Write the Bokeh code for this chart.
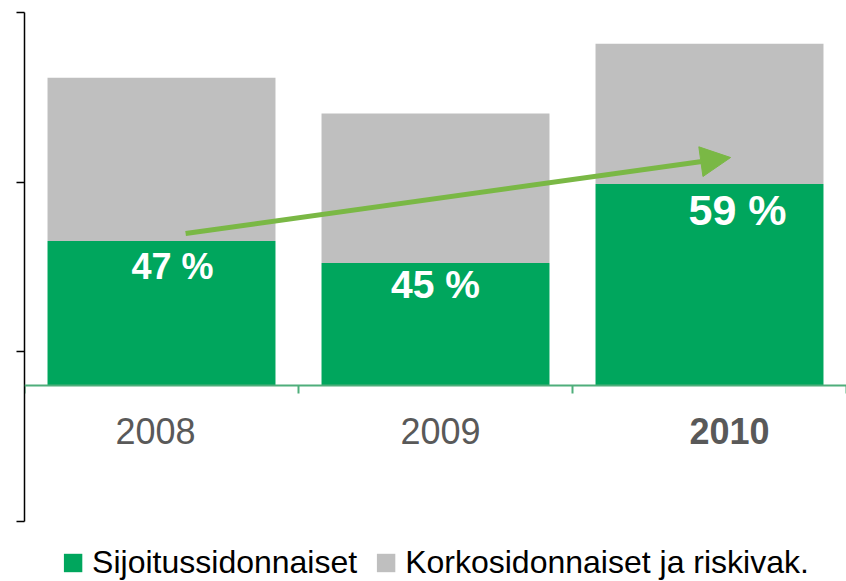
from bokeh.plotting import figure
from bokeh.models import (Range1d, LinearAxis, FixedTicker, Span, Legend, LegendItem,
                          Arrow, NormalHead, ColumnDataSource)
from bokeh.core.properties import value
from bokeh.embed import file_html
from bokeh.resources import INLINE

# ---------------- data ----------------
years = ["2008", "2009", "2010"]
totals = [1.81, 1.60, 2.01]            # total bar height (relative units)
unit_linked_pct = [47, 45, 59]         # share of Sijoitussidonnaiset, %
series_names = ["Sijoitussidonnaiset", "Korkosidonnaiset ja riskivak."]
year_bold = [False, False, True]
axis_ticks = [0, 1, 2, 3]

# ---------------- styles / layout ----------------
GREEN = "#00A65D"
GRAY = "#BFBFBF"
ARROW_GREEN = "#7AB845"
AXIS_GREEN = "#4FAE7B"
TEXT_GRAY = "#595959"
FONT = "Liberation Sans"
W, H = 846, 581
LEFT, TOP = 24, 12
BASE = 385             # pixel row of the value baseline
PX = 170.0             # pixels per value unit
CAT_PX = 274.0         # pixels per category
AX_PX = 169.67
year_dx = [-6, 5, 20]  # label nudges (px)
pct_dx = [11, 0, 28]
pct_dy = [26, 21, 26]
pct_size = ["36px", "39px", "43px"]

xs = [i + 0.5 for i in range(len(years))]
green = [t * s / 100 for t, s in zip(totals, unit_linked_pct)]
pct_labels = [f"{s} %" for s in unit_linked_pct]
pct_y = [g - d / PX for g, d in zip(green, pct_dy)]

src = ColumnDataSource(dict(x=xs, green=green, total=totals))

p = figure(width=W, height=H,
           x_range=Range1d(0, (W - LEFT) / CAT_PX),
           y_range=Range1d(-(H - BASE) / PX, (BASE - TOP) / PX),
           x_axis_location=None, y_axis_location=None,
           output_backend="svg", toolbar_location=None,
           min_border_left=LEFT, min_border_right=0, min_border_top=TOP, min_border_bottom=0,
           outline_line_color=None, background_fill_color="white")
p.xgrid.visible = False
p.ygrid.visible = False

# left decorative axis
p.extra_y_ranges = {"ax": Range1d(3 - (H - TOP) / AX_PX, 3)}
ax = LinearAxis(y_range_name="ax", ticker=FixedTicker(ticks=axis_ticks), bounds=(0, 3),
                major_tick_out=8, major_tick_in=0, minor_tick_line_color=None,
                major_label_text_font_size="0px", major_label_text_color=None,
                major_label_standoff=0, axis_line_color="#000000",
                major_tick_line_color="#000000", axis_line_width=1.5, major_tick_line_width=1.5)
p.add_layout(ax, "left")

# bars
r1 = p.vbar(x="x", bottom=0, top="green", width=0.832, fill_color=GREEN, line_color=None, source=src)
r2 = p.vbar(x="x", bottom="green", top="total", width=0.832, fill_color=GRAY, line_color=None, source=src)

# baseline and category ticks
p.add_layout(Span(location=0, dimension="width", line_color=AXIS_GREEN, line_width=2))
bounds_x = list(range(len(years) + 1))
p.segment(x0=bounds_x, x1=bounds_x, y0=[0] * len(bounds_x), y1=[-8 / PX] * len(bounds_x),
          line_color=AXIS_GREEN, line_width=2)

# year labels
for i, yr in enumerate(years):
    p.text(x=[xs[i]], y=[-45 / PX], text=[yr], x_offset=year_dx[i],
           text_font=value(FONT), text_font_size="36px",
           text_font_style="bold" if year_bold[i] else "normal",
           text_color=TEXT_GRAY, text_align="center", text_baseline="middle")

# percentage labels
for i in range(len(years)):
    p.text(x=[xs[i]], y=[pct_y[i]], text=[pct_labels[i]], x_offset=pct_dx[i],
           text_font=value(FONT), text_font_size=pct_size[i], text_font_style="bold",
           text_color="white", text_align="center", text_baseline="middle")

# trend arrow
p.add_layout(Arrow(x_start=0.588, y_start=0.894, x_end=2.577, y_end=1.341,
                   line_color=ARROW_GREEN, line_width=5,
                   end=NormalHead(size=30, fill_color=ARROW_GREEN, line_color=ARROW_GREEN)))

legend = Legend(items=[LegendItem(label=series_names[0], renderers=[r1]),
                       LegendItem(label=series_names[1], renderers=[r2])],
                location="bottom_center", orientation="horizontal",
                label_text_font=FONT, label_text_font_size="32px", label_text_color="#000000",
                glyph_width=23, glyph_height=23, label_standoff=8, spacing=17,
                padding=0, margin=0, border_line_color=None, background_fill_alpha=0)
p.add_layout(legend)

open("out.html", "w").write(file_html(p, INLINE))
